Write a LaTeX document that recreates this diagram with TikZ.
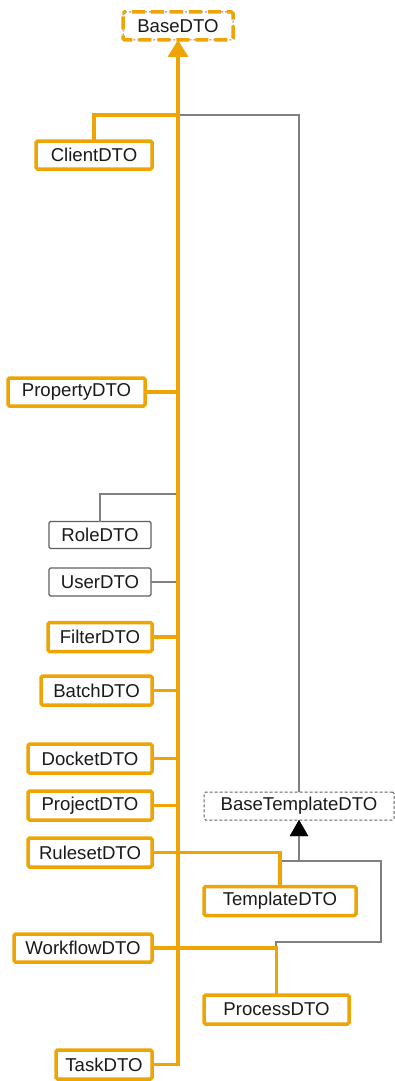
\documentclass[tikz,border=0pt]{standalone}
\usepackage{fontspec}
\setmainfont{Liberation Sans}
\usetikzlibrary{arrows.meta,calc}
\definecolor{org}{HTML}{EDA404}
\definecolor{gln}{HTML}{808080}
\definecolor{gbd}{HTML}{606060}
\definecolor{txt}{HTML}{1A1A1A}
\tikzset{
  box/.style={rectangle,inner sep=0pt,outer sep=0pt,font=\fontsize{18.6}{22}\selectfont,text=txt,rounded corners=1.5pt},
  obox/.style={box,draw=org,line width=3.5pt,fill=white},
  gbox/.style={box,draw=gbd,line width=1.2pt,fill=white},
  dbox/.style={box,draw=gbd,line width=1pt,dash pattern=on 3pt off 2pt,fill=white},
  oline/.style={draw=org,line width=3.5pt},
  gline/.style={draw=gln,line width=1.3pt},
  btip/.style={-{Triangle[length=16pt,width=18pt,color=black]}},
}
\begin{document}
\begin{tikzpicture}[x=1pt,y=-1pt]
\useasboundingbox (0,0) rectangle (395,1081);
% nodes
\node[box,minimum width=110pt,minimum height=28pt] (base) at (178,26) {BaseDTO};
\node[obox,minimum width=116pt,minimum height=28pt] (client) at (94,155) {ClientDTO};
\node[obox,minimum width=137pt,minimum height=28pt] (property) at (76.5,392) {PropertyDTO};
\node[gbox,minimum width=102pt,minimum height=27pt] (role) at (100,535) {RoleDTO};
\node[gbox,minimum width=102pt,minimum height=28pt] (user) at (100,582) {UserDTO};
\node[obox,minimum width=104pt,minimum height=29pt] (filter) at (100,637) {FilterDTO};
\node[obox,minimum width=111pt,minimum height=29pt] (batch) at (96.5,690.5) {BatchDTO};
\node[obox,minimum width=124pt,minimum height=29pt] (docket) at (90,758.5) {DocketDTO};
\node[obox,minimum width=124pt,minimum height=29pt] (project) at (90,805.5) {ProjectDTO};
\node[dbox,minimum width=190pt,minimum height=28pt] (btpl) at (299,806) {BaseTemplateDTO};
\node[obox,minimum width=124pt,minimum height=29pt] (ruleset) at (90,852.5) {RulesetDTO};
\node[obox,minimum width=152pt,minimum height=29pt] (template) at (280,901) {TemplateDTO};
\node[obox,minimum width=138pt,minimum height=28pt] (workflow) at (83,948) {WorkflowDTO};
\node[obox,minimum width=145pt,minimum height=29pt] (process) at (276.5,1009.5) {ProcessDTO};
\node[obox,minimum width=96pt,minimum height=29pt] (task) at (104,1064.5) {TaskDTO};
% BaseDTO border: gray dotted under orange dashed
\draw[gln,line width=1pt,dash pattern=on 2pt off 2pt,rounded corners=1.5pt] (base.north west) rectangle (base.south east);
\draw[org,line width=3.5pt,dash pattern=on 13pt off 6pt,dash phase=-3pt,rounded corners=1.5pt] (base.north west) rectangle (base.south east);
% junction coordinates
\coordinate (jc) at (178,115);
\coordinate (jr) at (178,494);
\coordinate (tj) at (280,861);
\coordinate (pj) at (276,948);
% gray connectors
\draw[gline] (btpl.north) |- (jc);
\draw[gline] (role.north) |- (jr);
\draw[gline] (user.east) -- (user.east -| base.south);
\draw[gline,btip] (tj) -| (btpl.south);
\draw[gline,btip] (pj) -- ++(0,-6) -| (381,861) -| (btpl.south);
% orange connectors
\draw[oline,-{Triangle[length=17pt,width=20pt]}] (task.east) -| (base.south);
\draw[oline] (client.north) |- (jc);
\draw[oline] (property.east) -- (property.east -| base.south);
\draw[oline] (filter.east) -- (filter.east -| base.south);
\draw[oline] (batch.east) -- (batch.east -| base.south);
\draw[oline] (docket.east) -- (docket.east -| base.south);
\draw[oline] (project.east) -- (project.east -| base.south);
\draw[oline] (ruleset.east) -- (ruleset.east -| base.south);
\draw[oline] (template.north) |- (ruleset.east -| base.south);
\draw[oline] (workflow.east) -- (workflow.east -| base.south);
\draw[oline] (process.north) |- (workflow.east -| base.south);
\end{tikzpicture}
\end{document}
